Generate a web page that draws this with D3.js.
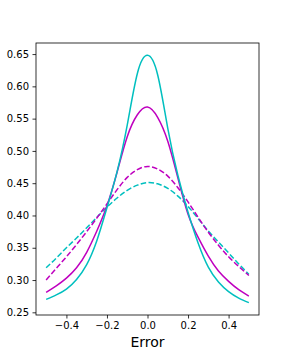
<!DOCTYPE html>
<html>
<head>
<meta charset="utf-8">
<script src="https://d3js.org/d3.v7.min.js"></script>
<style>
body{margin:0;background:#fff;}
text{font-family:"DejaVu Sans",sans-serif;fill:#000;}
</style>
</head>
<body>
<div id="chart"></div>
<script>
//数据
var xs = [-0.50,-0.45,-0.40,-0.35,-0.30,-0.25,-0.20,-0.15,-0.10,-0.05,0.00,0.05,0.10,0.15,0.20,0.25,0.30,0.35,0.40,0.45,0.50]
var cyanSolid = [0.270,0.277,0.286,0.301,0.324,0.361,0.412,0.468,0.540,0.620,0.648,0.618,0.535,0.462,0.405,0.357,0.320,0.297,0.282,0.272,0.265]
var magentaSolid = [0.281,0.291,0.303,0.319,0.343,0.376,0.415,0.467,0.522,0.556,0.568,0.552,0.515,0.458,0.402,0.366,0.337,0.314,0.298,0.285,0.275]
var magentaDashed = [0.300,0.318,0.336,0.355,0.375,0.396,0.418,0.440,0.459,0.471,0.476,0.472,0.461,0.443,0.421,0.397,0.374,0.354,0.336,0.321,0.307]
var cyanDashed = [0.319,0.334,0.350,0.365,0.381,0.397,0.413,0.427,0.439,0.447,0.451,0.449,0.442,0.430,0.414,0.395,0.376,0.359,0.342,0.325,0.309]
var xTicks = [-0.4,-0.2,0.0,0.2,0.4]
var yTicks = [0.25,0.30,0.35,0.40,0.45,0.50,0.55,0.60,0.65]

var series = [
    {values:cyanDashed,color:"#00bfbf",dash:"5.55,2.4"},
    {values:magentaDashed,color:"#bf00bf",dash:"5.55,2.4"},
    {values:magentaSolid,color:"#bf00bf",dash:null},
    {values:cyanSolid,color:"#00bfbf",dash:null}
]

var width = 288
var height = 360
var mLeft = 36, mRight = 259, mTop = 43, mBottom = 315

var svg = d3.select("#chart")
    .append("svg")
    .attr("width",width)
    .attr("height",height)

//坐标范围 (和matplotlib一样留5%)
var xMin = d3.min(xs), xMax = d3.max(xs)
var allY = cyanSolid.concat(magentaSolid,magentaDashed,cyanDashed)
var yMin = d3.min(allY), yMax = d3.max(allY)
var scaleX = d3.scaleLinear()
    .domain([xMin-(xMax-xMin)*0.05,xMax+(xMax-xMin)*0.05])
    .range([mLeft,mRight])
var scaleY = d3.scaleLinear()
    .domain([yMin-(yMax-yMin)*0.05,yMax+(yMax-yMin)*0.05])
    .range([mBottom,mTop])

var fmt = function(d){ return d3.format(".1f")(d).replace("-","\u2212") }

var line = d3.line()
    .x((d,i)=>scaleX(xs[i]))
    .y(d=>scaleY(d))
    .curve(d3.curveNatural)

svg.append("g")
    .selectAll("path")
    .data(series)
    .join("path")
    .attr("d",d=>line(d.values))
    .attr("fill","none")
    .attr("stroke",d=>d.color)
    .attr("stroke-width",1.5)
    .attr("stroke-dasharray",d=>d.dash)

//坐标轴
var xAxis = d3.axisBottom(scaleX).tickValues(xTicks).tickSize(3.5).tickPadding(3.5).tickFormat(fmt)
var yAxis = d3.axisLeft(scaleY).tickValues(yTicks).tickSize(3.5).tickPadding(3.5).tickFormat(d3.format(".2f"))

var gx = svg.append("g").attr("transform","translate(0,"+mBottom+")").call(xAxis)
var gy = svg.append("g").attr("transform","translate("+mLeft+",0)").call(yAxis)
gx.select(".domain").remove()
gy.select(".domain").remove()
svg.selectAll(".tick line").attr("stroke","#000").attr("stroke-width",0.8)
svg.selectAll(".tick text").style("font-size","10px").style("font-family","DejaVu Sans")

svg.append("rect")
    .attr("x",mLeft)
    .attr("y",mTop)
    .attr("width",mRight-mLeft)
    .attr("height",mBottom-mTop)
    .attr("fill","none")
    .attr("stroke","#000")
    .attr("stroke-width",0.8)

svg.append("text")
    .attr("x",(mLeft+mRight)/2)
    .attr("y",347)
    .attr("text-anchor","middle")
    .style("font-size","14px")
    .text("Error")
</script>
</body>
</html>
